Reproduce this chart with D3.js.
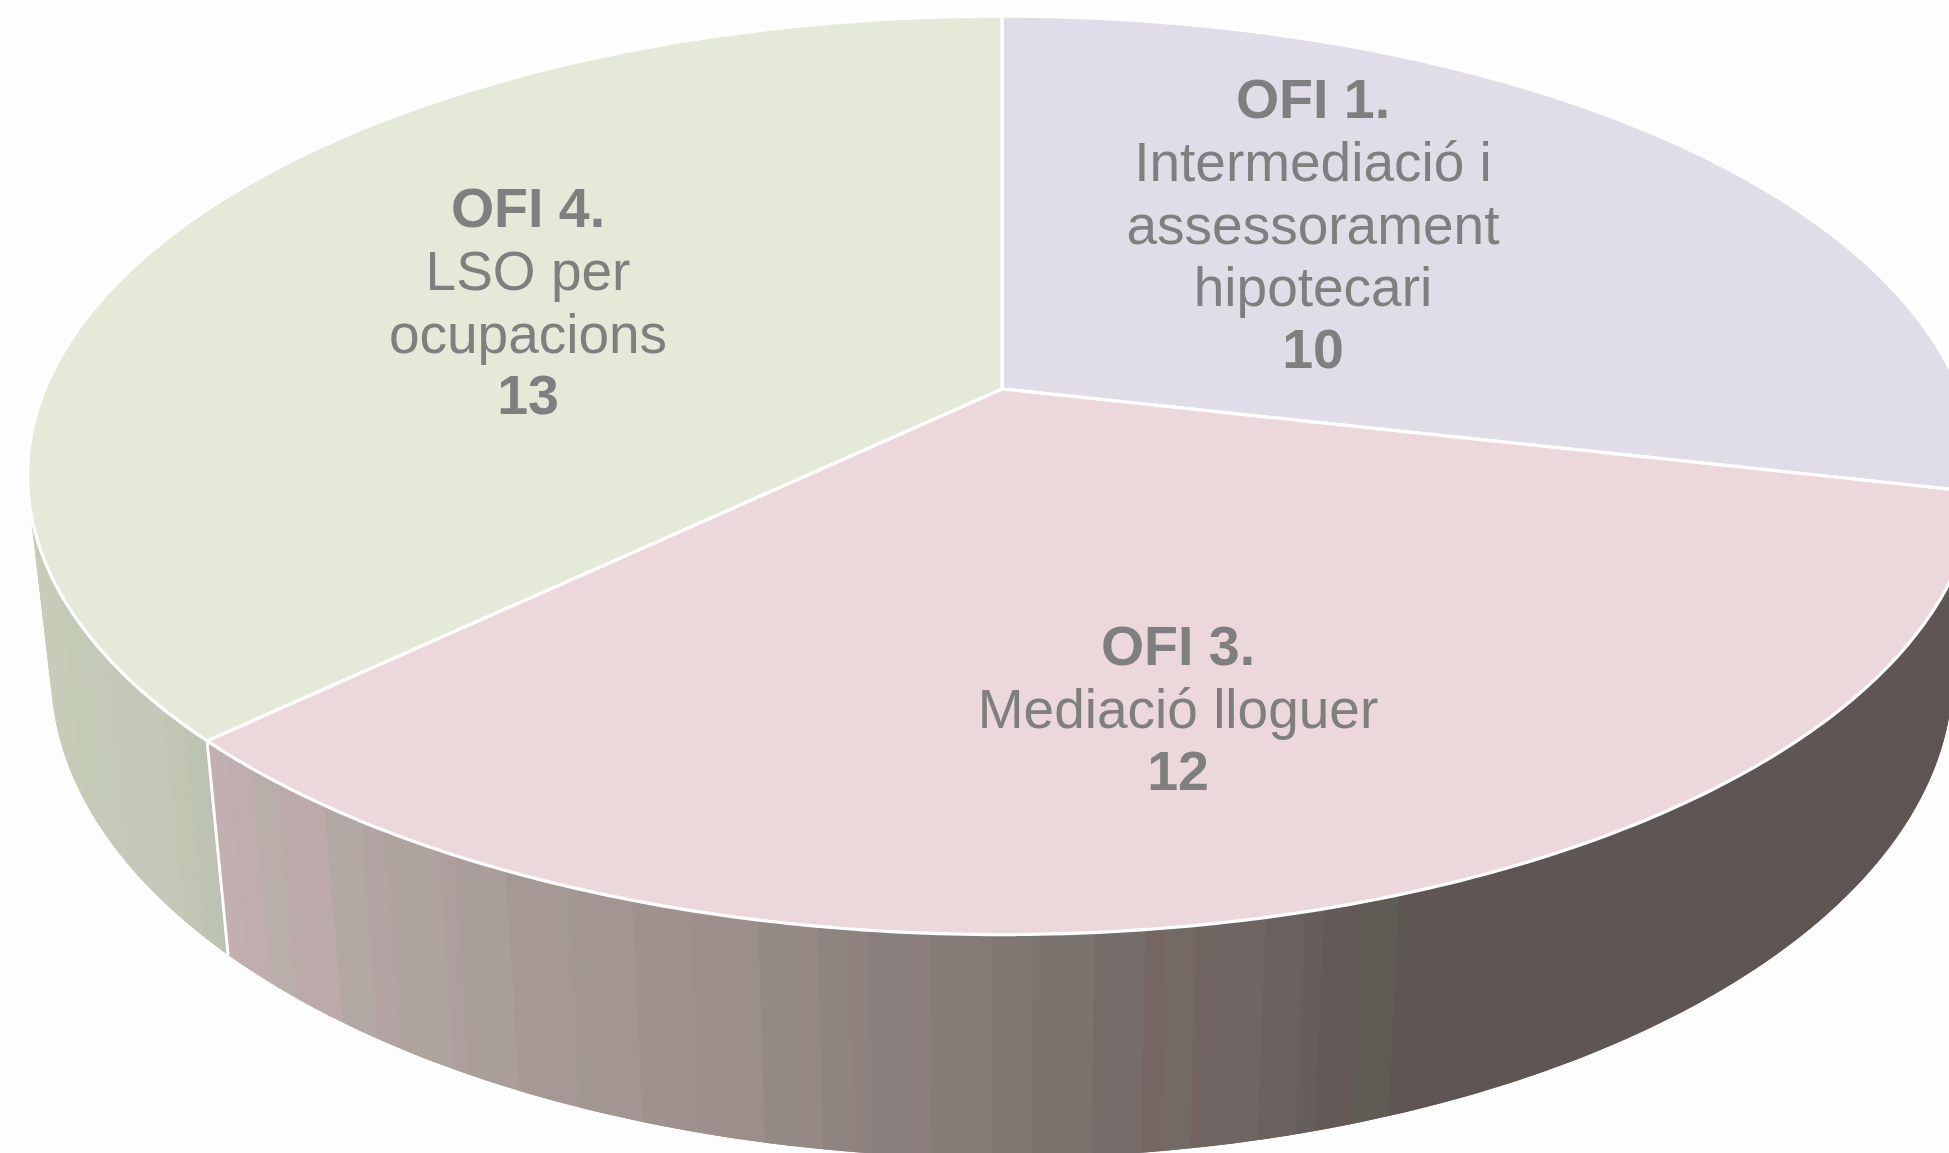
<!DOCTYPE html>
<html><head><meta charset="utf-8">
<script src="https://cdn.jsdelivr.net/npm/d3@7"></script>
<style>html,body{margin:0;padding:0;background:#fdfdfd;overflow:hidden}svg{display:block}
text{font-family:"Liberation Sans",Arial,sans-serif;fill:#7f7f7f;text-anchor:middle}</style>
</head><body><svg id="c" width="1949" height="1153"></svg>
<script>
const categories=["OFI 1.","OFI 3.","OFI 4."];
const labels=[["Intermediació i","assessorament","hipotecari"],["Mediació lloguer"],["LSO per","ocupacions"]];
const values=[10,12,13];
const topColors=["#e1dde8","#ecd8da","#e5e9d8"];
// wall shading bands: start angle (degrees clockwise from 12 o'clock) and shade
const bandAngles=[80,159.6,162,164,164.6,167,169.6,170.1,172,173,175.5,178.2,180.4,181.2,183.2,184.4,185.5,186.4,187.4,188.7,190.5,191.7,194.3,195.2,198.2,201.1,202,205.3,208.5,209.3,212.7,214.3,216.8,220.2,222.4,224.5,226.3,228.3,230.3,237.5,240,245];
const bandColors=["#5f5553","#5f5c56","#645957","#655e5a","#6a605d","#6f6663","#736462","#736a66","#766662","#766c69","#7b736e","#807671","#857a76","#857c78","#8b7e7c","#88807c","#8a7f7f","#8f817e","#8e8480","#958885","#938985","#9c8e8a","#9d908c","#9f918e","#a29592","#a29892","#a69995","#a99e99","#ae9e9e","#afa39e","#b4a3a3","#b2a8a4","#bcaaab","#b9aeaa","#c0adaf","#c3aeb0","#bdc3b3","#c0c6b1","#c4c8b9","#c5c9ba","#c3cbb6","#c7ccb9"];
const wallEnd=275,wallStep=0.5;
const labelPos=[[1313,118],[1178,665],[528,227]];
const cx=1002,cy=389,A=957,B=443,p=0.188,qd=0.0237,D=199.6;
const svg=d3.select("#c");
const project=(a,lower)=>{const x=Math.sin(a),u=-Math.cos(a),w=1-p*u+(lower?qd:0);
  return [cx+A*x/w,cy+(B*u+(lower?D:0))/w];};
const rad=d=>d*Math.PI/180;
const arcs=d3.pie().sort(null)(values);
const samples=(a0,a1,n)=>d3.range(n+1).map(i=>a0+(a1-a0)*i/n);
const line=d3.line();
const bandColor=d3.scaleThreshold().domain(bandAngles.slice(1)).range(bandColors);
// Wall is painted in slices in angle order, each overlapping the next, so no seams appear.
const slices=d3.range(bandAngles[0],wallEnd,wallStep);
svg.append("g").selectAll("path").data(slices).join("path")
 .attr("d",d=>{const a0=rad(d),a1=rad(d+wallStep*2);
   return line([project(a0,false),project(a1,false),project(a1,true),project(a0,true)])+"Z";})
 .attr("fill",d=>bandColor(d));
svg.append("path").attr("d",line([project(arcs[2].startAngle,false),project(arcs[2].startAngle,true)]))
 .attr("stroke","#fff").attr("stroke-width",3).attr("fill","none");
svg.append("g").selectAll("path").data(arcs).join("path")
 .attr("d",s=>line([[cx,cy],...samples(s.startAngle,s.endAngle,200).map(a=>project(a,false))])+"Z")
 .attr("fill",(s,i)=>topColors[i]).attr("stroke","#fff").attr("stroke-width",3.2).attr("stroke-linejoin","round");
const defs=svg.append("defs");
defs.append("filter").attr("id","soft").append("feGaussianBlur").attr("stdDeviation",0.75);
const lh=62.4;
categories.forEach((c,i)=>{
  const g=svg.append("g").attr("filter","url(#soft)");const [x,y0]=labelPos[i];let y=y0;
  const row=(t,b)=>{g.append("text").attr("x",x).attr("y",y+(b?0:1)).attr("font-size",b?55.5:55).attr("font-weight",b?700:400).text(t);y+=lh;};
  row(c,true);labels[i].forEach(t=>row(t,false));row(String(values[i]),true);
});
</script></body></html>
